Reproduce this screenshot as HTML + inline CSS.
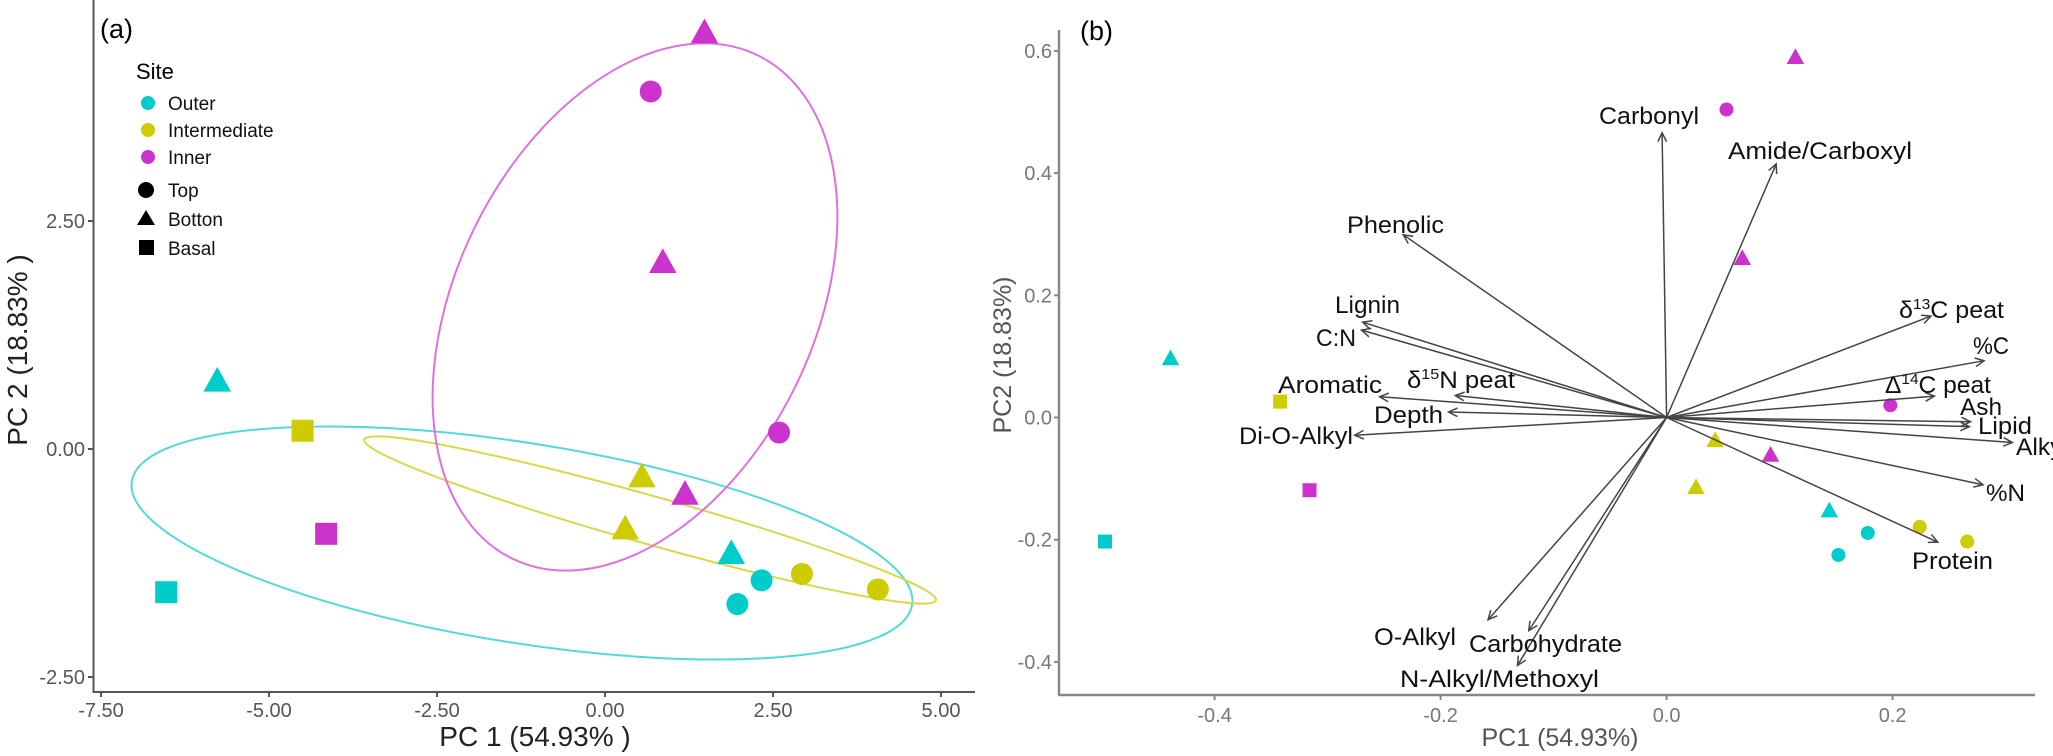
<!DOCTYPE html>
<html><head><meta charset="utf-8"><style>
html,body{margin:0;padding:0;background:#fff;width:2053px;height:756px;overflow:hidden}
svg{display:block}
.tk{font-family:"Liberation Sans",sans-serif;font-size:20px;fill:#555}
.ti{font-family:"Liberation Sans",sans-serif;font-size:28px;fill:#222}
.lb{font-family:"Liberation Sans",sans-serif;font-size:24px;fill:#111}
.lg{font-family:"Liberation Sans",sans-serif;font-size:19px;fill:#111}
</style></head><body>
<svg id="chart" width="2053" height="756" xmlns="http://www.w3.org/2000/svg">
<text x="100" y="38" style="font-family:'Liberation Sans',sans-serif;font-size:27px">(a)</text>
<text x="1080" y="40" style="font-family:'Liberation Sans',sans-serif;font-size:27px">(b)</text>
<g id="pa"></g>
<g id="pb"></g>
<g id="legend">
<text x="136" y="79" style="font-family:'Liberation Sans',sans-serif;font-size:22px">Site</text>
<circle cx="148" cy="103" r="7" fill="#00cccc"/>
<text x="168" y="110" class="lg">Outer</text>
<circle cx="148" cy="130" r="7" fill="#cccc00"/>
<text x="168" y="137" class="lg">Intermediate</text>
<circle cx="148" cy="157" r="7" fill="#cc33cc"/>
<text x="168" y="164" class="lg">Inner</text>
<circle cx="146" cy="190" r="8" fill="#000"/>
<text x="168" y="197" class="lg">Top</text>
<polygon points="137,225 146,210 155,225" fill="#000"/>
<text x="168" y="226" class="lg">Botton</text>
<rect x="139" y="240" width="15" height="15" fill="#000"/>
<text x="168" y="255" class="lg">Basal</text>
</g>
</svg>
<script>
// ---- Panel A data ----
const aSites = ["outer","outer","outer","outer","outer","inter","inter","inter","inter","inter","inner","inner","inner","inner","inner","inner"];
const aShapes = ["tri","sq","tri","circ","circ","sq","tri","tri","circ","circ","tri","circ","tri","tri","sq","circ"];
const aPC1 = [-5.77,-6.53,1.88,1.97,2.33,-4.5,0.55,0.30,2.93,4.06,1.48,0.68,0.86,1.19,-4.15,2.59];
const aPC2 = [0.75,-1.57,-1.14,-1.70,-1.44,0.2,-0.30,-0.87,-1.37,-1.54,4.57,3.92,2.05,-0.49,-0.93,0.18];
const aXTicks = [-7.5,-5,-2.5,0,2.5,5];
const aXTickLabels = ["-7.50","-5.00","-2.50","0.00","2.50","5.00"];
const aYTicks = [-2.5,0,2.5];
const aYTickLabels = ["-2.50","0.00","2.50"];
// ---- Panel B data ----
const bSites = ["inner","inner","inner","outer","inter","inner","inter","inner","inter","inner","outer","inter","outer","inter","outer","outer"];
const bShapes = ["tri","circ","tri","tri","sq","circ","tri","tri","tri","sq","tri","circ","circ","circ","circ","sq"];
const bPC1 = [0.114,0.053,0.067,-0.439,-0.342,0.198,0.043,0.092,0.026,-0.316,0.144,0.224,0.178,0.266,0.152,-0.497];
const bPC2 = [0.590,0.504,0.261,0.097,0.026,0.020,-0.037,-0.061,-0.114,-0.119,-0.152,-0.179,-0.189,-0.203,-0.225,-0.203];
const vecNames = ["Carbonyl","Amide/Carboxyl","Phenolic","Lignin","C:N","Aromatic","d15N","Depth","Di-O-Alkyl","d13C","%C","D14C","Ash","Lipid","Alkyl","%N","Protein","O-Alkyl","Carbohydrate","N-Alkyl/Methoxyl"];
const vecX = [-0.004,0.097,-0.233,-0.269,-0.270,-0.254,-0.187,-0.193,-0.276,0.234,0.281,0.237,0.269,0.268,0.306,0.280,0.240,-0.158,-0.122,-0.132];
const vecY = [0.466,0.415,0.299,0.156,0.143,0.034,0.036,0.009,-0.029,0.166,0.093,0.035,-0.007,-0.015,-0.041,-0.110,-0.204,-0.331,-0.349,-0.406];
const bXTicks = [-0.4,-0.2,0,0.2];
const bXTickLabels = ["-0.4","-0.2","0.0","0.2"];
const bYTicks = [-0.4,-0.2,0,0.2,0.4,0.6];
const bYTickLabels = ["-0.4","-0.2","0.0","0.2","0.4","0.6"];

const NS="http://www.w3.org/2000/svg";
const colors={outer:"#00cccc",inter:"#cccc00",inner:"#cc33cc"};
function mk(tag,attrs,parent){const e=document.createElementNS(NS,tag);for(const k in attrs)e.setAttribute(k,attrs[k]);parent.appendChild(e);return e;}
const ax=v=>605+v*67.2, ay=v=>449-v*91.2;
const bx=v=>1666.6+v*1130, by=v=>417.5-v*611;

function marker(parent,shape,cx,cy,r,col){
  let e;
  if(shape==="circ") e=mk("circle",{cx:cx,cy:cy,r:r,fill:col},parent);
  else if(shape==="sq") e=mk("rect",{x:cx-r,y:cy-r,width:2*r,height:2*r,fill:col},parent);
  else { const h=r*1.25; e=mk("polygon",{points:`${cx-h},${cy+h*0.8} ${cx},${cy-h*1.0} ${cx+h},${cy+h*0.8}`,fill:col},parent); }
  return e;
}

// Panel A
const pa=document.getElementById("pa");
let e;
e=mk("line",{x1:93.5,y1:0,x2:93.5,y2:692,stroke:"#555","stroke-width":2},pa);


e=mk("line",{x1:92.5,y1:692,x2:975,y2:692,stroke:"#555","stroke-width":2},pa);


aXTicks.forEach((t,i)=>{
  mk("line",{x1:ax(t),y1:692,x2:ax(t),y2:697,stroke:"#555","stroke-width":2},pa);
  e=mk("text",{x:ax(t),y:717,"text-anchor":"middle",class:"tk"},pa);e.textContent=aXTickLabels[i];
  
  
});
aYTicks.forEach((t,i)=>{
  mk("line",{x1:88,y1:ay(t),x2:93.5,y2:ay(t),stroke:"#555","stroke-width":2},pa);
  e=mk("text",{x:85,y:ay(t)+7,"text-anchor":"end",class:"tk"},pa);e.textContent=aYTickLabels[i];
  
  
});
e=mk("text",{x:535,y:746,"text-anchor":"middle",class:"ti"},pa);e.textContent="PC 1 (54.93% )";


e=mk("text",{x:0,y:0,"text-anchor":"middle",class:"ti",transform:"translate(27,350) rotate(-90)"},pa);e.textContent="PC 2 (18.83% )";


// ellipses
e=mk("ellipse",{cx:522,cy:543,rx:395,ry:100,transform:"rotate(9 522 543)",fill:"none",stroke:"#55d8d8","stroke-width":2},pa);


e=mk("ellipse",{cx:650,cy:520,rx:297,ry:24,transform:"rotate(15.7 650 520)",fill:"none",stroke:"#d8d850","stroke-width":2},pa);


e=mk("ellipse",{cx:635,cy:307,rx:179,ry:280,transform:"rotate(26 635 307)",fill:"none",stroke:"#e070e0","stroke-width":2},pa);


aPC1.forEach((v,i)=>{
  e=marker(pa,aShapes[i],ax(v),ay(aPC2[i]),11,colors[aSites[i]]);
  
  
});

// Panel B
const pb=document.getElementById("pb");
e=mk("line",{x1:1059,y1:30,x2:1059,y2:695,stroke:"#888","stroke-width":2.5},pb);


e=mk("line",{x1:1058,y1:695,x2:2035,y2:695,stroke:"#888","stroke-width":2.5},pb);


bXTicks.forEach((t,i)=>{
  mk("line",{x1:bx(t),y1:695,x2:bx(t),y2:700,stroke:"#888","stroke-width":2},pb);
  e=mk("text",{x:bx(t),y:722,"text-anchor":"middle",class:"tk",style:"fill:#777"},pb);e.textContent=bXTickLabels[i];
  
  
});
bYTicks.forEach((t,i)=>{
  mk("line",{x1:1054,y1:by(t),x2:1059,y2:by(t),stroke:"#888","stroke-width":2},pb);
  e=mk("text",{x:1052,y:by(t)+7,"text-anchor":"end",class:"tk",style:"fill:#777"},pb);e.textContent=bYTickLabels[i];
  
  
});
e=mk("text",{x:1560,y:746,"text-anchor":"middle",class:"ti",style:"fill:#555;font-size:25px"},pb);e.textContent="PC1 (54.93%)";


e=mk("text",{x:0,y:0,"text-anchor":"middle",class:"ti",style:"fill:#555;font-size:25px",transform:"translate(1011,355) rotate(-90)"},pb);e.textContent="PC2 (18.83%)";


bPC1.forEach((v,i)=>{
  e=marker(pb,bShapes[i],bx(v),by(bPC2[i]),7,colors[bSites[i]]);
  
  
});
const ox=bx(0), oy=by(0);
vecX.forEach((v,i)=>{
  const tx=bx(v), ty=by(vecY[i]);
  const g=mk("g",{},pb);
  
  
  mk("line",{x1:ox,y1:oy,x2:tx,y2:ty,stroke:"#444","stroke-width":1.5},g);
  const ang=Math.atan2(ty-oy,tx-ox), L=10, w=0.45;
  mk("polyline",{points:`${tx-L*Math.cos(ang-w)},${ty-L*Math.sin(ang-w)} ${tx},${ty} ${tx-L*Math.cos(ang+w)},${ty-L*Math.sin(ang+w)}`,fill:"none",stroke:"#444","stroke-width":1.5},g);
});
</script>
<svg style="position:absolute;left:0;top:0" width="2053" height="756" xmlns="http://www.w3.org/2000/svg">
<text x="1599" y="124" class="lb" textLength="100" lengthAdjust="spacingAndGlyphs">Carbonyl</text>
<text x="1728" y="159" class="lb" textLength="184" lengthAdjust="spacingAndGlyphs">Amide/Carboxyl</text>
<text x="1347" y="233" class="lb" textLength="97" lengthAdjust="spacingAndGlyphs">Phenolic</text>
<text x="1335" y="313" class="lb" textLength="65" lengthAdjust="spacingAndGlyphs">Lignin</text>
<text x="1316" y="346" class="lb" textLength="40" lengthAdjust="spacingAndGlyphs">C:N</text>
<text x="1278" y="393" class="lb" textLength="104" lengthAdjust="spacingAndGlyphs">Aromatic</text>
<text x="1407" y="388" class="lb" textLength="108" lengthAdjust="spacingAndGlyphs">δ<tspan dy="-9" font-size="15">15</tspan><tspan dy="9">N peat</tspan></text>
<text x="1374" y="423" class="lb" textLength="69" lengthAdjust="spacingAndGlyphs">Depth</text>
<text x="1239" y="444" class="lb" textLength="114" lengthAdjust="spacingAndGlyphs">Di-O-Alkyl</text>
<text x="1899" y="318" class="lb" textLength="105" lengthAdjust="spacingAndGlyphs">δ<tspan dy="-9" font-size="15">13</tspan><tspan dy="9">C peat</tspan></text>
<text x="1973" y="354" class="lb" textLength="36" lengthAdjust="spacingAndGlyphs">%C</text>
<text x="1885" y="393" class="lb" textLength="106" lengthAdjust="spacingAndGlyphs">Δ<tspan dy="-9" font-size="15">14</tspan><tspan dy="9">C peat</tspan></text>
<text x="1960" y="415" class="lb" textLength="42" lengthAdjust="spacingAndGlyphs">Ash</text>
<text x="1978" y="434" class="lb" textLength="54" lengthAdjust="spacingAndGlyphs">Lipid</text>
<text x="2016" y="455" class="lb" textLength="52" lengthAdjust="spacingAndGlyphs">Alkyl</text>
<text x="1986" y="501" class="lb" textLength="39" lengthAdjust="spacingAndGlyphs">%N</text>
<text x="1912" y="569" class="lb" textLength="81" lengthAdjust="spacingAndGlyphs">Protein</text>
<text x="1374" y="645" class="lb" textLength="82" lengthAdjust="spacingAndGlyphs">O-Alkyl</text>
<text x="1469" y="652" class="lb" textLength="153" lengthAdjust="spacingAndGlyphs">Carbohydrate</text>
<text x="1400" y="687" class="lb" textLength="199" lengthAdjust="spacingAndGlyphs">N-Alkyl/Methoxyl</text>
</svg>
</body></html>
